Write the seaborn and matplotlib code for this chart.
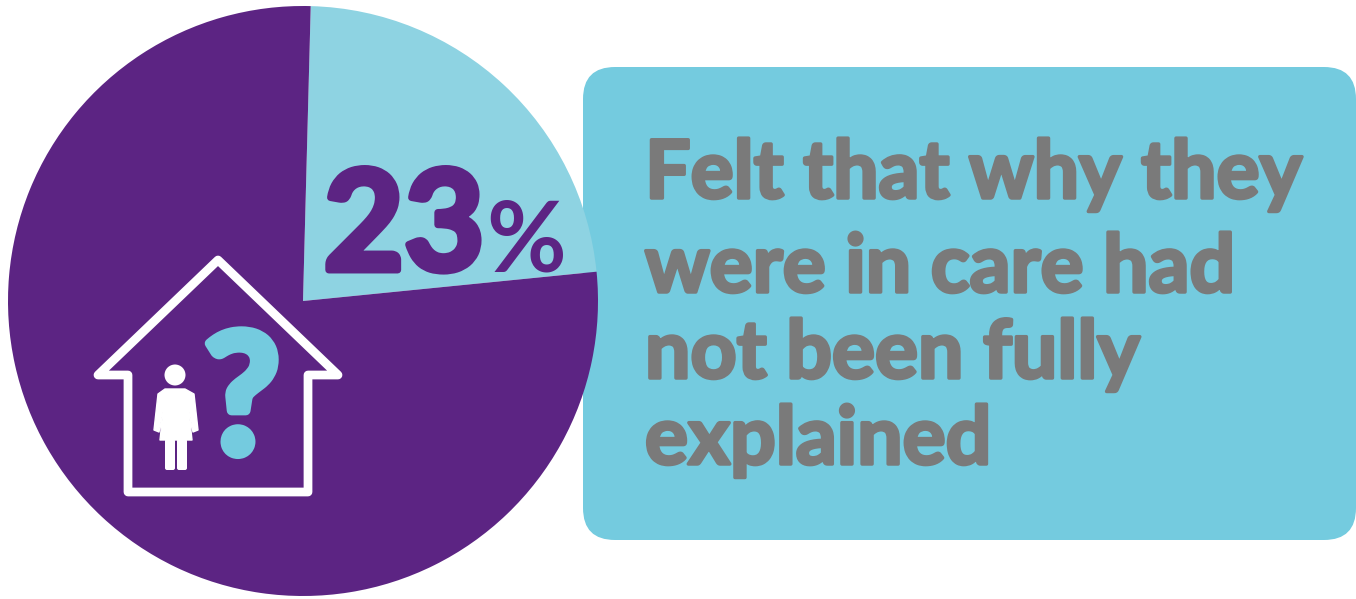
import matplotlib
matplotlib.use("Agg")
import matplotlib.pyplot as plt
import matplotlib.patheffects as pe
from matplotlib.patches import FancyBboxPatch, Circle, Polygon
import seaborn as sns

# Survey result
shares = [23, 77]
share_label = "23%"
caption_lines = ["Felt that why they", "were in care had", "not been fully", "explained"]

LIGHT = "#8ED3E2"
PURPLE = "#5C2483"
PANEL = "#74CBDF"
GREY = "#7A7A7A"
QUESTION = "#74CBDF"

W, H = 1356, 599
sns.set_theme(style="white")
plt.rcParams["font.family"] = ["Lato", "DejaVu Sans"]


def y_up(py):
    """Convert a top-down pixel row into the axes' upward coordinate."""
    return H - py


def rounded(color, width):
    return [pe.withStroke(linewidth=width, foreground=color, capstyle="round", joinstyle="round")]


fig = plt.figure(figsize=(W / 100, H / 100), dpi=100, facecolor="white")
ax = fig.add_axes([0, 0, 1, 1])

# Caption panel sits behind the pie
ax.add_patch(FancyBboxPatch((583 + 32, y_up(540) + 32), 773 - 64, 473 - 64,
                            boxstyle="round,pad=32,rounding_size=32",
                            facecolor=PANEL, edgecolor="none", zorder=1))

wedges, _ = ax.pie(shares, colors=[LIGHT, PURPLE], startangle=88.5, counterclock=False,
                   center=(303, y_up(301)), radius=295, frame=False,
                   wedgeprops=dict(linewidth=0))
for w in wedges:
    w.set_zorder(2)

ax.set_xlim(0, W)
ax.set_ylim(0, H)
ax.set_aspect("equal")
ax.axis("off")

ax.text(404, y_up(270), share_label[:2], color=PURPLE, fontsize=100, fontweight="bold",
        ha="center", va="baseline", zorder=4, path_effects=rounded(PURPLE, 5))
ax.text(526, y_up(271), share_label[2:], color=PURPLE, fontsize=70, fontweight="bold",
        ha="center", va="baseline", zorder=4)

# House outline
house_x = [218, 338, 308, 308, 128, 128, 98]
house_y = [260, 375, 375, 492, 492, 375, 375]
ax.add_patch(Polygon(list(zip(house_x, [y_up(v) for v in house_y])), closed=True, fill=False,
                     edgecolor="white", linewidth=6.3, joinstyle="round", zorder=4))

# Figure inside the house: head, dress, legs
ax.add_patch(Circle((175, y_up(375)), 10.5, facecolor="white", edgecolor="none", zorder=4))
dress_x = [165, 185, 194, 198, 193, 189, 192, 160, 163, 159, 154, 158]
dress_y = [389, 389, 394, 430, 432, 412, 440, 440, 412, 432, 430, 394]
ax.add_patch(Polygon(list(zip(dress_x, [y_up(v) for v in dress_y])), closed=True,
                     facecolor="white", edgecolor="white", linewidth=1.0,
                     joinstyle="round", zorder=4))
for leg_left in (165, 177):
    ax.add_patch(FancyBboxPatch((leg_left, y_up(470)), 10, 31,
                                boxstyle="round,pad=0,rounding_size=2",
                                facecolor="white", edgecolor="none", zorder=4))

ax.text(242, y_up(453), "?", color=QUESTION, fontsize=120, fontweight="bold",
        ha="center", va="baseline", zorder=4, path_effects=rounded(QUESTION, 7))

# Caption, one text per line
baselines = [198, 292, 378, 464]
for line, base in zip(caption_lines, baselines):
    ax.text(645, y_up(base), line, color=GREY, fontsize=58, fontweight="bold",
            ha="left", va="baseline", zorder=3, path_effects=rounded(GREY, 2.5))

fig.savefig("out.png", dpi=100, facecolor="white")
